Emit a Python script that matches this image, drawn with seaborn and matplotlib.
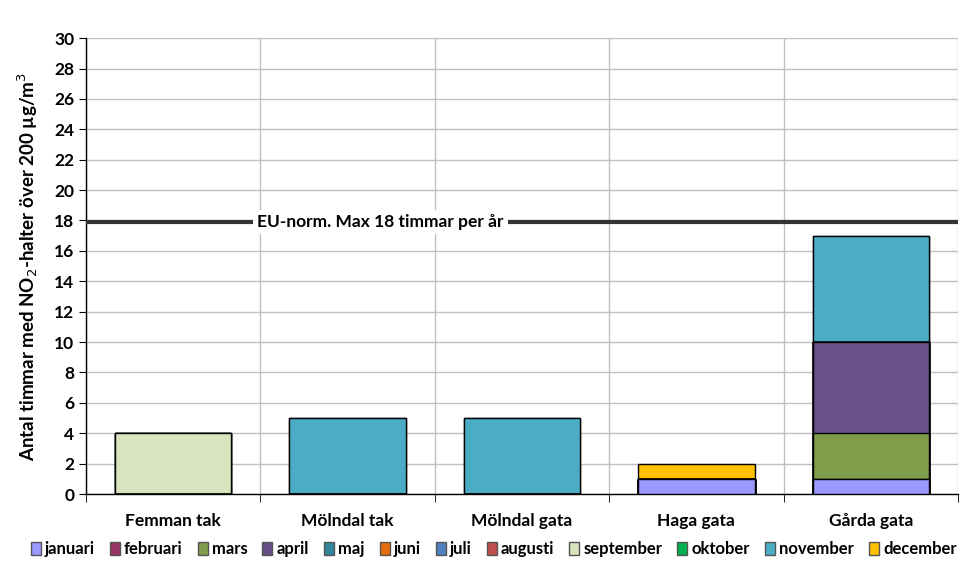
import pandas as pd
import seaborn as sns
import matplotlib.pyplot as plt
from matplotlib.patches import Patch

# stations and monthly hour counts (NO2 > 200 ug/m3)
stations = ["Femman tak", "Mölndal tak", "Mölndal gata", "Haga gata", "Gårda gata"]
months = ["januari", "februari", "mars", "april", "maj", "juni", "juli",
          "augusti", "september", "oktober", "november", "december"]
month_colors = ["#9999FF", "#993366", "#7F9D4A", "#685088", "#31849B", "#E46C0A",
                "#4F81BD", "#C0504D", "#D8E4BD", "#00B050", "#4BACC6", "#FFC000"]

januari = [0, 0, 0, 1, 1]
februari = [0, 0, 0, 0, 0]
mars = [0, 0, 0, 0, 3]
april = [0, 0, 0, 0, 6]
maj = [0, 0, 0, 0, 0]
juni = [0, 0, 0, 0, 0]
juli = [0, 0, 0, 0, 0]
augusti = [0, 0, 0, 0, 0]
september = [4, 0, 0, 0, 0]
oktober = [0, 0, 0, 0, 0]
november = [0, 5, 5, 0, 7]
december = [0, 0, 0, 1, 0]

eu_limit = 17.9
eu_text = "EU-norm. Max 18 timmar per år"

df = pd.DataFrame({"station": stations, "januari": januari, "februari": februari,
                   "mars": mars, "april": april, "maj": maj, "juni": juni,
                   "juli": juli, "augusti": augusti, "september": september,
                   "oktober": oktober, "november": november, "december": december})
cum = df[months].cumsum(axis=1)

plt.rcParams['font.family'] = ['Lato', 'DejaVu Sans']
fig = plt.figure(figsize=(9.68, 5.78), dpi=100)
ax = fig.add_axes([0.0888, 0.1453, 0.9009, 0.7887])

# stacked bars: draw cumulative totals from top month down
for m, c in reversed(list(zip(months, month_colors))):
    sns.barplot(x=df["station"], y=cum[m], color=c, width=0.667,
                edgecolor="black", linewidth=1, saturation=1, ax=ax, zorder=3)

ax.axhline(eu_limit, color="#333333", linewidth=3, zorder=4)
ax.text(1.19, eu_limit, eu_text, ha="center", va="center", fontsize=12.5,
        fontweight="bold", zorder=5,
        bbox=dict(facecolor="white", edgecolor="none", pad=3))

ax.set_ylim(0, 30)
ax.set_xlim(-0.5, 4.5)
ax.set_yticks(range(0, 31, 2))
ax.set_xticks(range(5))
ax.set_xticks([i - 0.5 for i in range(6)], minor=True)
ax.set_xticklabels(stations, fontweight="bold", fontsize=12.5)
ax.tick_params(axis="x", which="major", length=0, pad=14)
ax.tick_params(axis="x", which="minor", length=6, direction="out")
ax.tick_params(axis="y", length=5, direction="out", labelsize=12.5)
for lab in ax.get_yticklabels():
    lab.set_fontweight("bold")

ax.grid(False)
ax.yaxis.grid(True, color="#c0c0c0", linewidth=1, zorder=0)
ax.xaxis.grid(True, which="minor", color="#c0c0c0", linewidth=1, zorder=0)
ax.set_axisbelow(True)
for s in ["top", "right"]:
    ax.spines[s].set_visible(False)
for s in ["left", "bottom"]:
    ax.spines[s].set_color("black")
    ax.spines[s].set_linewidth(1)

ax.set_xlabel("")
ax.set_ylabel("Antal timmar med NO$_2$-halter över 200 µg/m$^3$",
              fontweight="bold", fontsize=13.5, labelpad=10)

handles = [Patch(facecolor=c, edgecolor="#555555", label=m)
           for m, c in zip(months, month_colors)]
fig.legend(handles=handles, loc="lower center", ncol=12, frameon=False,
           bbox_to_anchor=(0.51, 0.01), prop={"weight": "bold", "size": 12},
           handlelength=0.6, handleheight=0.9, handletextpad=0.25,
           columnspacing=0.9)

fig.savefig("out.png", dpi=100)
